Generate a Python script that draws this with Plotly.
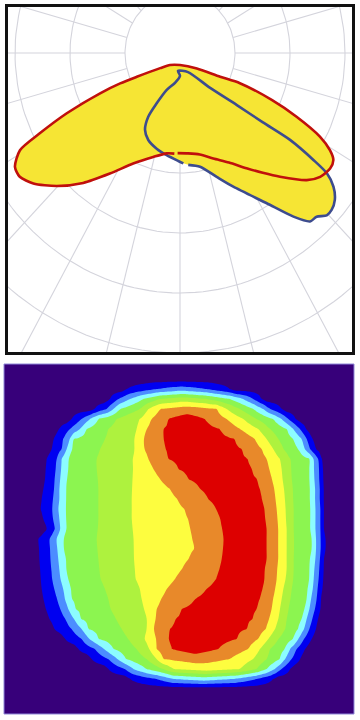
import numpy as np
import plotly.graph_objects as go

# ---------------- polar light-distribution diagram ----------------
ring_values = [100, 200, 300, 400, 500, 600]      # cd/klm, one ring each
radial_angles = list(range(0, 360, 15))           # degrees
ring_step = 100.0

# C0-C180 plane (red), gamma measured from nadir, + to the right
red_gamma = [-1.5, 5, 12, 19, 26, 32.2, 37, 41.4, 47.4, 51, 54.8, 57.4, 59.3,
             61.3, 63.4, 64.9, 65.2, 61.5, 50, 0, -42.3, -55, -63.2, -65.0,
             -65.2, -64.0, -62.3, -60.9, -57.7, -54.7, -50.8, -45.3,
             -39.1, -32.4, -24.8, -15.7, -8.2, -3.5]
red_cd = [167, 168, 173, 186, 203, 227, 250, 275, 313, 328, 334, 331, 317,
          290, 237, 185, 120, 83, 40, 20, 27, 44, 88, 120,
          160, 229, 288, 333, 355, 357, 344, 315,
          279, 238, 203, 180, 169, 168]

# C90-C270 plane (blue)
blue_gamma = [4.6, 10.9, 17.9, 23.5, 32.2, 37.1, 40.1, 42.3, 44.6, 46.5, 49,
              51.4, 53.1, 53.7, 54.1, 52.5, 50, 43.3, 24.6, -6.9, 0, -10,
              -21.4, -26.8, -28.5, -26.4, -21.7, -14.9, -8.1, -1, 1.9]
blue_cd = [187, 193, 217, 243, 296, 342, 367, 369, 380, 380, 373,
           357, 334, 301, 247, 190, 135, 80, 35, 30, 38, 50,
           66, 94, 121, 143, 156, 165, 172, 180, 184]

# ---------------- isolux map ----------------
# map plane spans 12..1062 in x and y; one scan row every 30 units.
# For each row: where each iso level starts (left) and ends (right).
iso_colors = ["#37007a", "#0000f0", "#4c8dff", "#8cfcff", "#8cf550",
              "#aef23e", "#fdfd3f", "#e8892a", "#dd0000"]
iso_row_y = [27 + 30 * i for i in range(35)]
iso_left = [
    [], [],
    [380, 470],
    [330, 355, 390, 430, 480],
    [283, 320, 340, 360, 420, 445, 480],
    [215, 245, 270, 295, 350, 420, 455, 505],
    [177, 210, 240, 260, 325, 410, 440, 490],
    [161, 190, 210, 222, 315, 405, 432, 490],
    [155, 185, 200, 215, 300, 405, 433, 495],
    [140, 170, 185, 205, 290, 400, 445, 505],
    [137, 168, 183, 202, 290, 400, 460, 535],
    [135, 165, 180, 200, 293, 398, 480, 565],
    [130, 162, 178, 197, 295, 396, 510, 600],
    [125, 160, 178, 196, 295, 395, 532, 624],
    [122, 158, 175, 195, 295, 395, 553, 648],
    [130, 160, 178, 196, 295, 395, 565, 660],
    [140, 165, 180, 198, 293, 397, 572, 666],
    [115, 150, 170, 190, 290, 400, 578, 670],
    [117, 151, 172, 192, 292, 401, 583, 668],
    [118, 152, 175, 195, 295, 402, 566, 665],
    [120, 154, 178, 198, 298, 404, 546, 658],
    [122, 157, 182, 202, 302, 407, 525, 648],
    [125, 163, 190, 210, 315, 420, 500, 620],
    [130, 172, 195, 215, 325, 425, 483, 585],
    [137, 182, 205, 225, 332, 432, 470, 545],
    [148, 197, 222, 243, 348, 442, 465, 525],
    [163, 215, 245, 265, 365, 440, 462, 508],
    [195, 245, 268, 297, 385, 435, 468, 505],
    [235, 285, 312, 340, 410, 448, 470, 515],
    [275, 325, 352, 378, 440, 470, 490],
    [325, 375, 400, 440, 490, 520],
    [390, 470, 520],
    [], [], [],
]
iso_right = [
    [], [],
    [620, 690],
    [620, 690, 730, 760, 785],
    [650, 680, 720, 760, 790, 810, 845],
    [615, 680, 730, 770, 820, 845, 865, 887],
    [660, 720, 775, 810, 860, 880, 900, 918],
    [705, 765, 800, 835, 880, 905, 920, 937],
    [725, 785, 820, 850, 895, 915, 930, 948],
    [745, 800, 840, 870, 930, 940, 955, 965],
    [757, 808, 845, 873, 930, 942, 957, 967],
    [772, 816, 848, 875, 930, 943, 958, 968],
    [782, 823, 852, 877, 932, 945, 960, 970],
    [788, 827, 855, 878, 932, 945, 960, 970],
    [795, 830, 857, 880, 933, 946, 962, 971],
    [798, 833, 858, 880, 933, 946, 962, 971],
    [800, 835, 860, 880, 933, 946, 962, 972],
    [800, 835, 860, 882, 935, 948, 962, 975],
    [800, 835, 860, 882, 935, 948, 962, 975],
    [800, 835, 860, 880, 932, 946, 960, 972],
    [797, 832, 860, 880, 930, 943, 958, 970],
    [795, 830, 857, 878, 928, 941, 956, 968],
    [790, 826, 850, 875, 925, 938, 953, 966],
    [782, 820, 845, 870, 920, 933, 950, 962],
    [770, 815, 840, 865, 915, 928, 945, 960],
    [760, 807, 835, 860, 905, 920, 937, 953],
    [740, 798, 825, 855, 895, 912, 928, 947],
    [710, 775, 805, 835, 880, 895, 912, 935],
    [655, 745, 780, 810, 855, 870, 890, 915],
    [690, 760, 800, 840, 855, 875, 900],
    [720, 770, 800, 825, 845, 870],
    [700, 770, 820],
    [], [], [],
]

# level field along each scan row: level k starts at the k-th edge
x_samples = np.arange(12, 1062.01, 7.5)
field = []
for L, R in zip(iso_left, iso_right):
    if not L:
        field.append(np.zeros_like(x_samples))
        continue
    k = len(L)
    xp = [L[0] - 15] + list(L) + [(L[-1] + R[0]) / 2] + list(R) + [R[-1] + 15]
    fp = ([0] + [i + 0.5 for i in range(k)] + [k]
          + [i + 0.5 for i in range(k - 1, -1, -1)] + [0])
    field.append(np.interp(x_samples, xp, fp))
field = np.array(field)

# ---------------- build figure ----------------
W, H = 360, 720
fig = go.Figure()

grid_style = dict(color="#d4d4dc", width=1.1)
phi = np.radians(np.arange(0, 361, 2))
for rv in ring_values:
    r = rv / ring_step
    fig.add_trace(go.Scatter(x=r * np.cos(phi), y=r * np.sin(phi), mode="lines",
                             line=grid_style, hoverinfo="skip", showlegend=False))
r_in, r_out = ring_values[0] / ring_step, ring_values[-1] / ring_step + 0.5
for a in radial_angles:
    t = np.radians(a)
    fig.add_trace(go.Scatter(x=[r_in * np.sin(t), r_out * np.sin(t)],
                             y=[-r_in * np.cos(t), -r_out * np.cos(t)],
                             mode="lines", line=grid_style, hoverinfo="skip",
                             showlegend=False))


def to_xy(gamma, cd):
    g = np.radians(np.asarray(gamma, float))
    r = np.asarray(cd, float) / ring_step
    return r * np.sin(g), -r * np.cos(g)


rx, ry = to_xy(red_gamma, red_cd)
bx, by = to_xy(blue_gamma, blue_cd)
yellow = "#f6e534"
for xx, yy in [(rx, ry), (bx, by)]:
    fig.add_trace(go.Scatter(x=xx, y=yy, mode="lines", fill="toself",
                             fillcolor=yellow,
                             line=dict(width=0, shape="spline", smoothing=0.7),
                             hoverinfo="skip", showlegend=False))
fig.add_trace(go.Scatter(x=bx, y=by, mode="lines",
                         line=dict(color="#3d4c8e", width=2.6, shape="spline",
                                   smoothing=0.7),
                         hoverinfo="skip", showlegend=False))
fig.add_trace(go.Scatter(x=rx, y=ry, mode="lines",
                         line=dict(color="#c0100c", width=2.6, shape="spline",
                                   smoothing=0.7),
                         hoverinfo="skip", showlegend=False))

n = len(iso_colors)
cscale = [[k / (n - 1), col] for k, col in enumerate(iso_colors)]
fig.add_trace(go.Contour(z=field, x=x_samples, y=iso_row_y,
                         colorscale=cscale,
                         contours=dict(start=0.5, end=n - 1.5, size=1,
                                       coloring="fill"),
                         line=dict(width=0, smoothing=1.0),
                         showscale=False, hoverinfo="skip",
                         xaxis="x2", yaxis="y2"))

# pixel geometry of the polar panel
cx, cy, sx, sy = 180.0, 53.0, 55.0, 60.0
px_l, px_r, px_t, px_b = 8.0, 352.0, 7.0, 352.0

fig.update_layout(
    width=W, height=H, margin=dict(l=0, r=0, t=0, b=0),
    paper_bgcolor="white", plot_bgcolor="white", showlegend=False,
    xaxis=dict(domain=[px_l / W, px_r / W],
               range=[(px_l - cx) / sx, (px_r - cx) / sx],
               visible=False, fixedrange=True),
    yaxis=dict(domain=[1 - px_b / H, 1 - px_t / H],
               range=[(cy - px_b) / sy, (cy - px_t) / sy],
               visible=False, fixedrange=True),
    xaxis2=dict(domain=[4 / W, 354 / W], range=[12, 1062],
                visible=False, fixedrange=True, anchor="y2"),
    yaxis2=dict(domain=[1 - 714 / H, 1 - 364 / H], range=[1062, 12],
                visible=False, fixedrange=True, anchor="x2"),
    shapes=[
        dict(type="rect", xref="paper", yref="paper", layer="below",
             x0=4 / W, x1=354 / W, y0=1 - 714 / H, y1=1 - 364 / H,
             fillcolor=iso_colors[0], line=dict(width=0)),
        dict(type="rect", xref="paper", yref="paper",
             x0=6.5 / W, x1=353.5 / W, y0=1 - 353.5 / H, y1=1 - 5.5 / H,
             line=dict(color="#111111", width=3)),
        dict(type="rect", xref="paper", yref="paper",
             x0=4 / W, x1=354 / W, y0=1 - 714 / H, y1=1 - 364 / H,
             line=dict(color="#9088d8", width=1)),
    ],
)

fig.write_html("out.html", config={"displayModeBar": False},
               post_script="document.body.style.margin='0';"
                           "document.body.style.overflow='hidden';")
